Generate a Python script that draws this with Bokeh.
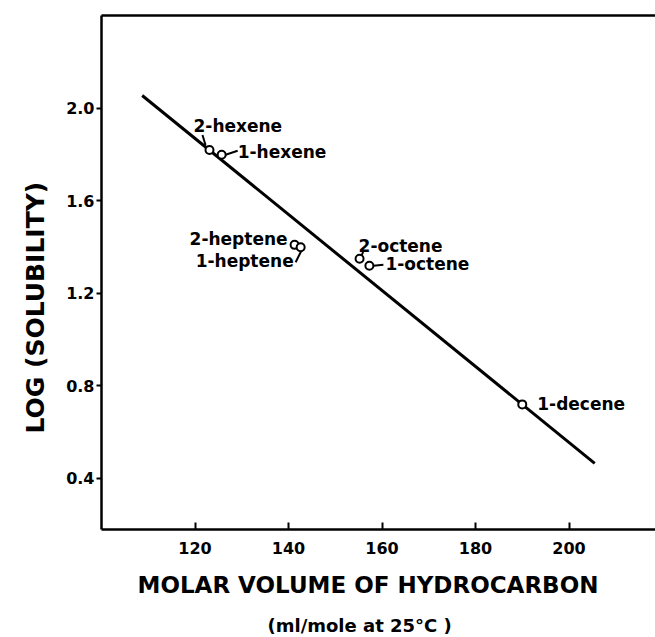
from bokeh.plotting import figure
from bokeh.models import LinearAxis, FixedTicker, Title, ColumnDataSource, Range1d, CustomJSTickFormatter
from bokeh.embed import file_html
from bokeh.resources import INLINE
from bokeh.core.properties import value

# ---- data ----
compounds = ["2-hexene", "1-hexene", "2-heptene", "1-heptene", "2-octene", "1-octene", "1-decene"]
molar_volume = [123.1, 125.7, 141.3, 142.6, 155.2, 157.3, 190.0]
log_solubility = [1.82, 1.80, 1.41, 1.40, 1.35, 1.32, 0.72]
fit_volume = [108.7, 205.5]
fit_log_solubility = [2.056, 0.465]
x_ticks = [120, 140, 160, 180, 200]
y_ticks = [0.4, 0.8, 1.2, 1.6, 2.0]

# ---- layout / style ----
X0, X1 = 100.0, 218.5
Y0, Y1 = 0.179, 2.402
W, H = 655, 637
ML, MT, MB = 101, 15, 108
FW, FH = W - ML, H - MT - MB
PXX = FW / (X1 - X0)
PXY = FH / (Y1 - Y0)
FONT = "DejaVu Sans"

# label offsets in screen pixels (dx right, dy down) and alignment
label_dx = [-16, 16, -7, -7, -1, 16, 15]
label_dy = [-24, -3, -6, 14, -13, -2, 0]
label_align = ["left", "left", "right", "right", "left", "left", "left"]
# leader lines: (index, start offset px, end offset px)
leaders = [(0, (-4, -5), (-7, -15)),
           (1, (4, 0), (16, -4)),
           (3, (1, 3), (-5, 15)),
           (4, (2, -3), (4, -8)),
           (5, (4, 0), (14, -1))]

p = figure(width=W, height=H, x_range=Range1d(X0, X1), y_range=Range1d(Y0, Y1),
           output_backend="svg", toolbar_location=None,
           min_border_left=ML, min_border_right=0, min_border_top=MT, min_border_bottom=MB)
p.grid.visible = False
p.outline_line_color = None
p.background_fill_color = "white"
p.border_fill_color = "white"

# x axis
xa = p.xaxis[0]
xa.ticker = FixedTicker(ticks=x_ticks)
xa.axis_line_width = 2.5
xa.axis_line_color = "black"
xa.major_tick_in = 7
xa.major_tick_out = 0
xa.major_tick_line_width = 2
xa.major_tick_line_color = "black"
xa.minor_tick_line_color = None
xa.major_label_standoff = 12
xa.major_label_text_font = FONT
xa.major_label_text_font_style = "bold"
xa.major_label_text_font_size = "16px"
xa.major_label_text_color = "black"

# y axis
ya = p.yaxis[0]
ya.ticker = FixedTicker(ticks=y_ticks)
ya.axis_line_width = 2.5
ya.axis_line_color = "black"
ya.major_tick_in = 0
ya.major_tick_out = 5
ya.major_tick_line_width = 2
ya.major_tick_line_color = "black"
ya.minor_tick_line_color = None
ya.major_label_standoff = 2
ya.major_label_text_font = FONT
ya.major_label_text_font_style = "bold"
ya.major_label_text_font_size = "16px"
ya.major_label_text_color = "black"
ya.formatter = CustomJSTickFormatter(code="return tick.toFixed(1);")

# top frame line
top = LinearAxis(ticker=FixedTicker(ticks=[]), axis_line_width=2.5, axis_line_color="black",
                 major_tick_line_color=None, minor_tick_line_color=None,
                 major_label_text_font_size="0px")
p.add_layout(top, "above")

# titles
t1 = Title(text="MOLAR VOLUME OF HYDROCARBON", align="left", offset=36,
           text_font=FONT, text_font_style="bold", text_font_size="23px",
           text_color="black", standoff=26)
t2 = Title(text="(ml/mole at 25°C )", align="left", offset=166,
           text_font=FONT, text_font_style="bold", text_font_size="18px",
           text_color="black", standoff=4)
p.add_layout(t1, "below")
p.add_layout(t2, "below")
ty = Title(text="LOG (SOLUBILITY)", align="left", offset=96, vertical_align="top",
           text_font=FONT, text_font_style="bold", text_font_size="25px",
           text_color="black", standoff=24)
p.add_layout(ty, "left")

# fit line
p.line(fit_volume, fit_log_solubility, line_color="black", line_width=3)

# leaders
lx0, ly0, lx1, ly1 = [], [], [], []
for i, a, b in leaders:
    lx0.append(molar_volume[i] + a[0] / PXX)
    ly0.append(log_solubility[i] - a[1] / PXY)
    lx1.append(molar_volume[i] + b[0] / PXX)
    ly1.append(log_solubility[i] - b[1] / PXY)
p.segment(lx0, ly0, lx1, ly1, line_color="black", line_width=2)

# points
p.scatter(molar_volume, log_solubility, marker="circle", size=8,
          fill_color="white", line_color="black", line_width=2)

# labels
for al in ("left", "right"):
    idx = [i for i in range(len(compounds)) if label_align[i] == al]
    src = ColumnDataSource(dict(
        x=[molar_volume[i] for i in idx], y=[log_solubility[i] for i in idx],
        t=[compounds[i] for i in idx], dx=[label_dx[i] for i in idx],
        dy=[label_dy[i] for i in idx]))
    p.text("x", "y", text="t", x_offset="dx", y_offset="dy", source=src,
           text_align=al, text_baseline="middle", text_font=value(FONT),
           text_font_style="bold", text_font_size="17px", text_color="black")

open("out.html", "w").write(file_html(p, INLINE))
